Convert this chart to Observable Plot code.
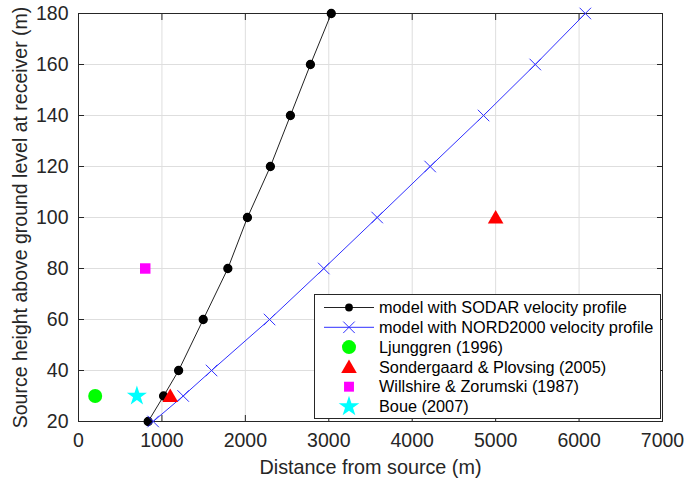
<!DOCTYPE html>
<html>
<head>
<meta charset="utf-8">
<script src="https://cdn.jsdelivr.net/npm/d3@7"></script>
<script src="https://cdn.jsdelivr.net/npm/@observablehq/plot@0.6"></script>
<style>
  html, body { margin: 0; padding: 0; background: #fff; }
  #chart { position: relative; width: 686px; height: 481px; }
</style>
</head>
<body>
<div id="chart"></div>
<script>
// Source heights (m)
const heights = [20, 30, 40, 60, 80, 100, 120, 140, 160, 180];
// Distance (m) for model with SODAR velocity profile
const sodarDist = [835, 1020, 1200, 1495, 1790, 2025, 2300, 2540, 2780, 3030];
// Distance (m) for model with NORD2000 velocity profile
const nordDist = [895, 1255, 1595, 2290, 2940, 3580, 4215, 4855, 5475, 6075];

// Literature observations
const ljunggren = [{x: 200, y: 30}];
const sondergaard = [{x: 1100, y: 30}, {x: 5000, y: 100}];
const willshire = [{x: 800, y: 80}];
const boue = [{x: 700, y: 30}];

const xTicks = [0, 1000, 2000, 3000, 4000, 5000, 6000, 7000];
const yTicks = [20, 40, 60, 80, 100, 120, 140, 160, 180];

const legendLabels = [
  "model with SODAR velocity profile",
  "model with NORD2000 velocity profile",
  "Ljunggren (1996)",
  "Sondergaard & Plovsing (2005)",
  "Willshire & Zorumski (1987)",
  "Boue (2007)"
];

const sodar = heights.map((h, i) => ({x: sodarDist[i], y: h}));
const nord = heights.map((h, i) => ({x: nordDist[i], y: h}));

const axisColor = "#262626";
const gridColor = "#dedede";
const font = "'Liberation Sans', Arial, sans-serif";

const chart = Plot.plot({
  width: 686,
  height: 481,
  marginLeft: 78,
  marginRight: 24,
  marginTop: 13,
  marginBottom: 60,
  style: {fontFamily: font, fontSize: "19.5px", color: axisColor, background: "#fff"},
  x: {domain: [0, 7000]},
  y: {domain: [20, 180]},
  marks: [
    Plot.gridX(xTicks, {stroke: gridColor, strokeOpacity: 1}),
    Plot.gridY(yTicks, {stroke: gridColor, strokeOpacity: 1}),
    Plot.axisX(xTicks, {anchor: "bottom", tickSize: -6, tickPadding: 18, tickFormat: d3.format("d"),
      stroke: axisColor, fill: axisColor, fontSize: 19.5,
      label: null}),
    Plot.axisX({anchor: "bottom", ticks: [], label: "Distance from source (m)", labelAnchor: "center",
      labelArrow: "none", labelOffset: 52, fontSize: 19.8, fill: axisColor}),
    Plot.axisX(xTicks, {anchor: "top", tickSize: -6, tickFormat: () => "", stroke: axisColor, label: null}),
    Plot.axisY(yTicks, {anchor: "left", tickSize: -6, tickPadding: 16, tickFormat: d3.format("d"),
      stroke: axisColor, fill: axisColor, fontSize: 19.5, label: null}),
    Plot.axisY({anchor: "left", ticks: [], label: "Source height above ground level at receiver (m)",
      labelAnchor: "center", labelArrow: "none", labelOffset: 65, fontSize: 19.5, fill: axisColor}),
    Plot.axisY(yTicks, {anchor: "right", tickSize: -6, tickFormat: () => "", stroke: axisColor, label: null}),
    Plot.frame({stroke: axisColor, strokeWidth: 1}),
    Plot.line(sodar, {x: "x", y: "y", stroke: "#222", strokeWidth: 1}),
    Plot.dot(sodar, {x: "x", y: "y", fill: "black", stroke: "black", r: 3.9, symbol: "circle"}),
    Plot.line(nord, {x: "x", y: "y", stroke: "#3030ff", strokeWidth: 1}),
    Plot.dot(nord, {x: "x", y: "y", stroke: "#3030ff", strokeWidth: 1, r: 5.3, symbol: "times"}),
    Plot.dot(ljunggren, {x: "x", y: "y", fill: "#00ff00", r: 7, symbol: "circle"}),
    Plot.dot(sondergaard, {x: "x", y: "y", fill: "#ff0000", r: 5.8, symbol: "triangle", dy: 1.5}),
    Plot.dot(willshire, {x: "x", y: "y", fill: "#ff00ff", r: 5.9, symbol: "square"}),
    Plot.dot(boue, {x: "x", y: "y", fill: "#00ffff", r: 6.3, symbol: "star"})
  ]
});
document.getElementById("chart").appendChild(chart);

// Legend box (MATLAB style, inside axes at bottom-right)
const svg = d3.select(chart);
const lg = svg.append("g").attr("font-family", font).attr("font-size", 16.3).attr("text-anchor", "start");
const lx = 314, ly = 294, lw = 346, lh = 124;
lg.append("rect").attr("x", lx + 0.5).attr("y", ly + 0.5).attr("width", lw).attr("height", lh)
  .attr("fill", "white").attr("stroke", axisColor).attr("stroke-width", 1);
const rowY = i => 307.5 + i * 19.8;
const sx = lx + 35; // marker center
const sym = (type, r) => d3.symbol(d3[type], Math.PI * r * r)();
legendLabels.forEach((label, i) => {
  const y = rowY(i);
  const g = lg.append("g");
  if (i === 0) {
    g.append("line").attr("x1", lx + 10).attr("x2", lx + 60).attr("y1", y).attr("y2", y).attr("stroke", "#222");
    g.append("path").attr("d", sym("symbolCircle", 3.9)).attr("transform", `translate(${sx},${y})`).attr("fill", "black");
  } else if (i === 1) {
    g.append("line").attr("x1", lx + 10).attr("x2", lx + 60).attr("y1", y).attr("y2", y).attr("stroke", "#3030ff");
    g.append("path").attr("d", sym("symbolTimes", 5.3)).attr("transform", `translate(${sx},${y})`).attr("stroke", "#3030ff").attr("fill", "none");
  } else if (i === 2) {
    g.append("path").attr("d", sym("symbolCircle", 7)).attr("transform", `translate(${sx},${y})`).attr("fill", "#00ff00");
  } else if (i === 3) {
    g.append("path").attr("d", sym("symbolTriangle", 5.8)).attr("transform", `translate(${sx},${y + 1.5})`).attr("fill", "#ff0000");
  } else if (i === 4) {
    g.append("path").attr("d", sym("symbolSquare", 5.6)).attr("transform", `translate(${sx},${y})`).attr("fill", "#ff00ff");
  } else {
    g.append("path").attr("d", sym("symbolStar", 6.5)).attr("transform", `translate(${sx},${y})`).attr("fill", "#00ffff");
  }
  g.append("text").attr("x", lx + 65).attr("y", y).attr("dy", "0.35em").attr("fill", "black").text(label);
});
</script>
</body>
</html>
